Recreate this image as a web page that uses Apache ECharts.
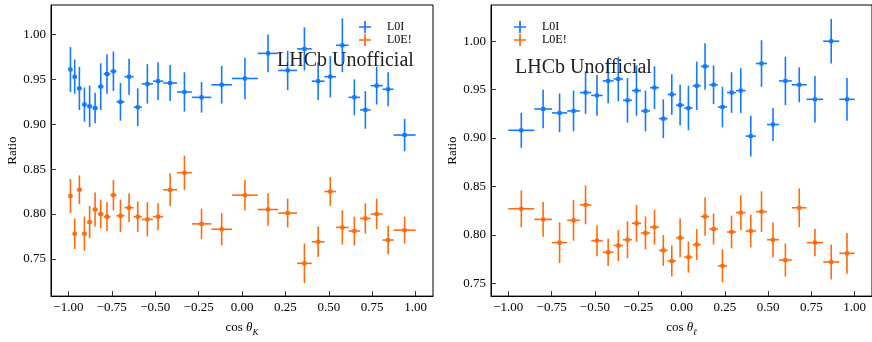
<!DOCTYPE html>
<html>
<head>
<meta charset="utf-8">
<script src="https://cdn.jsdelivr.net/npm/echarts@6/dist/echarts.min.js"></script>
<style>
  html, body { margin: 0; padding: 0; background: #fff; }
  #chart { width: 872px; height: 342px; }
</style>
</head>
<body>
<div id="chart"></div>
<script>
// Trigger ratio per bin of cos(theta_K) and cos(theta_l), L0I and L0E! categories.
const binEdgesK = [-1, -0.976, -0.951, -0.922, -0.893, -0.862, -0.830, -0.797, -0.758, -0.723,
  -0.677, -0.624, -0.577, -0.513, -0.454, -0.374, -0.289, -0.177, -0.057, 0.091,
  0.209, 0.317, 0.402, 0.475, 0.542, 0.614, 0.680, 0.741, 0.810, 0.873, 1.0];
const ratioL0I_K = [0.961, 0.953, 0.940, 0.922, 0.920, 0.918, 0.942, 0.956, 0.959, 0.925,
  0.953, 0.919, 0.945, 0.948, 0.946, 0.936, 0.930, 0.944, 0.951, 0.979,
  0.960, 0.984, 0.948, 0.953, 0.988, 0.930, 0.916, 0.943, 0.939, 0.888];
const errL0I_K = [0.025, 0.019, 0.024, 0.019, 0.023, 0.017, 0.026, 0.022, 0.022, 0.021,
  0.020, 0.021, 0.022, 0.021, 0.020, 0.022, 0.017, 0.021, 0.023, 0.021,
  0.022, 0.024, 0.021, 0.023, 0.030, 0.020, 0.021, 0.021, 0.019, 0.018];
const ratioL0E_K = [0.820, 0.778, 0.827, 0.778, 0.791, 0.805, 0.800, 0.797, 0.821, 0.798,
  0.807, 0.797, 0.794, 0.797, 0.827, 0.846, 0.789, 0.783, 0.821, 0.805,
  0.801, 0.745, 0.769, 0.825, 0.785, 0.781, 0.795, 0.800, 0.771, 0.782];
const errL0E_K = [0.019, 0.017, 0.016, 0.019, 0.018, 0.019, 0.016, 0.016, 0.017, 0.018,
  0.016, 0.017, 0.019, 0.015, 0.018, 0.019, 0.017, 0.018, 0.017, 0.018,
  0.016, 0.022, 0.017, 0.016, 0.019, 0.016, 0.017, 0.017, 0.016, 0.015];

const binEdgesL = [-1, -0.850, -0.748, -0.660, -0.587, -0.521, -0.455, -0.392, -0.338, -0.286,
  -0.234, -0.182, -0.130, -0.080, -0.032, 0.016, 0.064, 0.112, 0.160, 0.210,
  0.263, 0.315, 0.370, 0.430, 0.494, 0.563, 0.637, 0.723, 0.818, 0.911, 1.0];
const ratioL0I_L = [0.908, 0.930, 0.926, 0.928, 0.947, 0.944, 0.959, 0.961, 0.939, 0.949,
  0.928, 0.952, 0.920, 0.945, 0.934, 0.931, 0.954, 0.974, 0.955, 0.932,
  0.947, 0.949, 0.902, 0.977, 0.914, 0.959, 0.955, 0.940, 1.000, 0.940];
const errL0I_L = [0.018, 0.020, 0.020, 0.021, 0.022, 0.021, 0.023, 0.023, 0.023, 0.026,
  0.021, 0.022, 0.020, 0.021, 0.021, 0.023, 0.025, 0.024, 0.020, 0.021,
  0.021, 0.023, 0.021, 0.024, 0.017, 0.025, 0.018, 0.024, 0.023, 0.022];
const ratioL0E_L = [0.827, 0.816, 0.792, 0.815, 0.831, 0.794, 0.782, 0.789, 0.795, 0.812,
  0.802, 0.808, 0.784, 0.773, 0.797, 0.777, 0.790, 0.819, 0.806, 0.768,
  0.803, 0.823, 0.804, 0.824, 0.795, 0.774, 0.828, 0.792, 0.772, 0.781];
const errL0E_L = [0.019, 0.018, 0.021, 0.021, 0.020, 0.016, 0.014, 0.016, 0.019, 0.019,
  0.017, 0.018, 0.016, 0.016, 0.020, 0.016, 0.016, 0.020, 0.016, 0.017,
  0.017, 0.018, 0.017, 0.021, 0.018, 0.017, 0.020, 0.014, 0.018, 0.021];

const xTicks = [-1.00, -0.75, -0.50, -0.25, 0.00, 0.25, 0.50, 0.75, 1.00];
const yTicksK = [0.75, 0.80, 0.85, 0.90, 0.95, 1.00];
const yTicksL = [0.75, 0.80, 0.85, 0.90, 0.95, 1.00];

const BLUE = '#1279ff';
const ORANGE = '#ff6a0c';
const SERIF = '"Liberation Serif", "DejaVu Serif", serif';

// rows: [centre, low edge, high edge, value, error]
function buildRows(edges, vals, errs) {
  return vals.map((v, i) => [
    (edges[i] + edges[i + 1]) / 2, edges[i], edges[i + 1], v, errs[i]
  ]);
}

function errorBarItem(color) {
  return function (params, api) {
    const xc = api.value(0), xl = api.value(1), xh = api.value(2);
    const y = api.value(3), e = api.value(4);
    const c = api.coord([xc, y]);
    const l = api.coord([xl, y]);
    const h = api.coord([xh, y]);
    const t = api.coord([xc, y + e]);
    const b = api.coord([xc, y - e]);
    const st = { stroke: color, lineWidth: 1.6 };
    return {
      type: 'group',
      children: [
        { type: 'line', shape: { x1: l[0], y1: c[1], x2: h[0], y2: c[1] }, style: st },
        { type: 'line', shape: { x1: c[0], y1: t[1], x2: c[0], y2: b[1] }, style: st },
        { type: 'rect', shape: { x: c[0] - 2, y: c[1] - 2, width: 4, height: 4 }, style: { fill: color } }
      ]
    };
  };
}

function fmt(v) {
  return v.toFixed(2).replace('-', '\u2212');
}

function xAxisFor(gridIndex, sub) {
  return {
    gridIndex: gridIndex, type: 'value', min: -1.1, max: 1.1,
    name: '{n|cos }{t|\u03b8}{s|' + sub + '}',
    nameLocation: 'middle', nameGap: 22,
    nameTextStyle: {
      rich: {
        n: { fontFamily: SERIF, fontSize: 13, color: '#000', lineHeight: 16 },
        t: { fontFamily: SERIF, fontSize: 13, fontStyle: 'italic', color: '#000', lineHeight: 16 },
        s: { fontFamily: SERIF, fontSize: 9, fontStyle: 'italic', color: '#000', lineHeight: 9, padding: [9, 0, 0, 0] }
      }
    },
    axisLine: { show: true, onZero: false, lineStyle: { color: '#000', width: 1 } },
    axisTick: { show: true, inside: true, length: 5, customValues: xTicks, lineStyle: { color: '#333', width: 1 } },
    axisLabel: { customValues: xTicks, formatter: fmt, margin: 5, fontFamily: SERIF, fontSize: 13, color: '#000' },
    splitLine: { show: false }
  };
}

function yAxisFor(gridIndex, min, max, ticks) {
  return {
    gridIndex: gridIndex, type: 'value', min: min, max: max,
    name: 'Ratio', nameLocation: 'middle', nameGap: 32,
    nameTextStyle: { fontFamily: SERIF, fontSize: 13, color: '#000' },
    axisLine: { show: true, onZero: false, lineStyle: { color: '#000', width: 1 } },
    axisTick: { show: true, inside: true, length: 5, customValues: ticks, lineStyle: { color: '#333', width: 1 } },
    axisLabel: { customValues: ticks, formatter: fmt, margin: 5, fontFamily: SERIF, fontSize: 13, color: '#000' },
    splitLine: { show: false }
  };
}

const plusIcon = 'path://M0,6H6V0H8V6H14V8H8V14H6V8H0Z';

function legendAt(left) {
  return {
    orient: 'vertical', left: left, top: 21, padding: 0,
    itemWidth: 14, itemHeight: 12, itemGap: 1,
    textStyle: { fontFamily: SERIF, fontSize: 12, color: '#000', padding: [0, 0, 0, 10] },
    data: [
      { name: 'L0I', icon: plusIcon, itemStyle: { color: BLUE } },
      { name: 'L0E!', icon: plusIcon, itemStyle: { color: ORANGE } }
    ],
    selectedMode: false
  };
}

function panelSeries(idx, edges, vI, eI, vE, eE) {
  return [
    {
      name: 'L0I', type: 'custom', xAxisIndex: idx, yAxisIndex: idx,
      itemStyle: { color: BLUE },
      renderItem: errorBarItem(BLUE),
      encode: { x: [0, 1, 2], y: 3 },
      data: buildRows(edges, vI, eI)
    },
    {
      name: 'L0E!', type: 'custom', xAxisIndex: idx, yAxisIndex: idx,
      itemStyle: { color: ORANGE },
      renderItem: errorBarItem(ORANGE),
      encode: { x: [0, 1, 2], y: 3 },
      data: buildRows(edges, vE, eE)
    }
  ];
}

const chart = echarts.init(document.getElementById('chart'), null, { renderer: 'canvas' });
chart.setOption({
  animation: false,
  backgroundColor: '#fff',
  grid: [
    { left: 51, top: 5, width: 382, height: 303, show: true, borderColor: '#000', borderWidth: 1, backgroundColor: 'transparent' },
    { left: 491, top: 5, width: 382, height: 303, show: true, borderColor: '#000', borderWidth: 1, backgroundColor: 'transparent' }
  ],
  xAxis: [xAxisFor(0, 'K'), xAxisFor(1, '\u2113')],
  yAxis: [
    yAxisFor(0, 0.7085, 1.0329, yTicksK),
    yAxisFor(1, 0.7368, 1.0374, yTicksL)
  ],
  legend: [legendAt(359), legendAt(514)],
  graphic: [
    { type: 'text', left: 277, top: 51, z: 10,
      style: { text: 'LHCb Unofficial', fontFamily: SERIF, fontSize: 20, fill: '#222' } },
    { type: 'text', left: 515, top: 58, z: 10,
      style: { text: 'LHCb Unofficial', fontFamily: SERIF, fontSize: 20, fill: '#222' } }
  ],
  series: [
    ...panelSeries(0, binEdgesK, ratioL0I_K, errL0I_K, ratioL0E_K, errL0E_K),
    ...panelSeries(1, binEdgesL, ratioL0I_L, errL0I_L, ratioL0E_L, errL0E_L)
  ]
});
</script>
</body>
</html>
